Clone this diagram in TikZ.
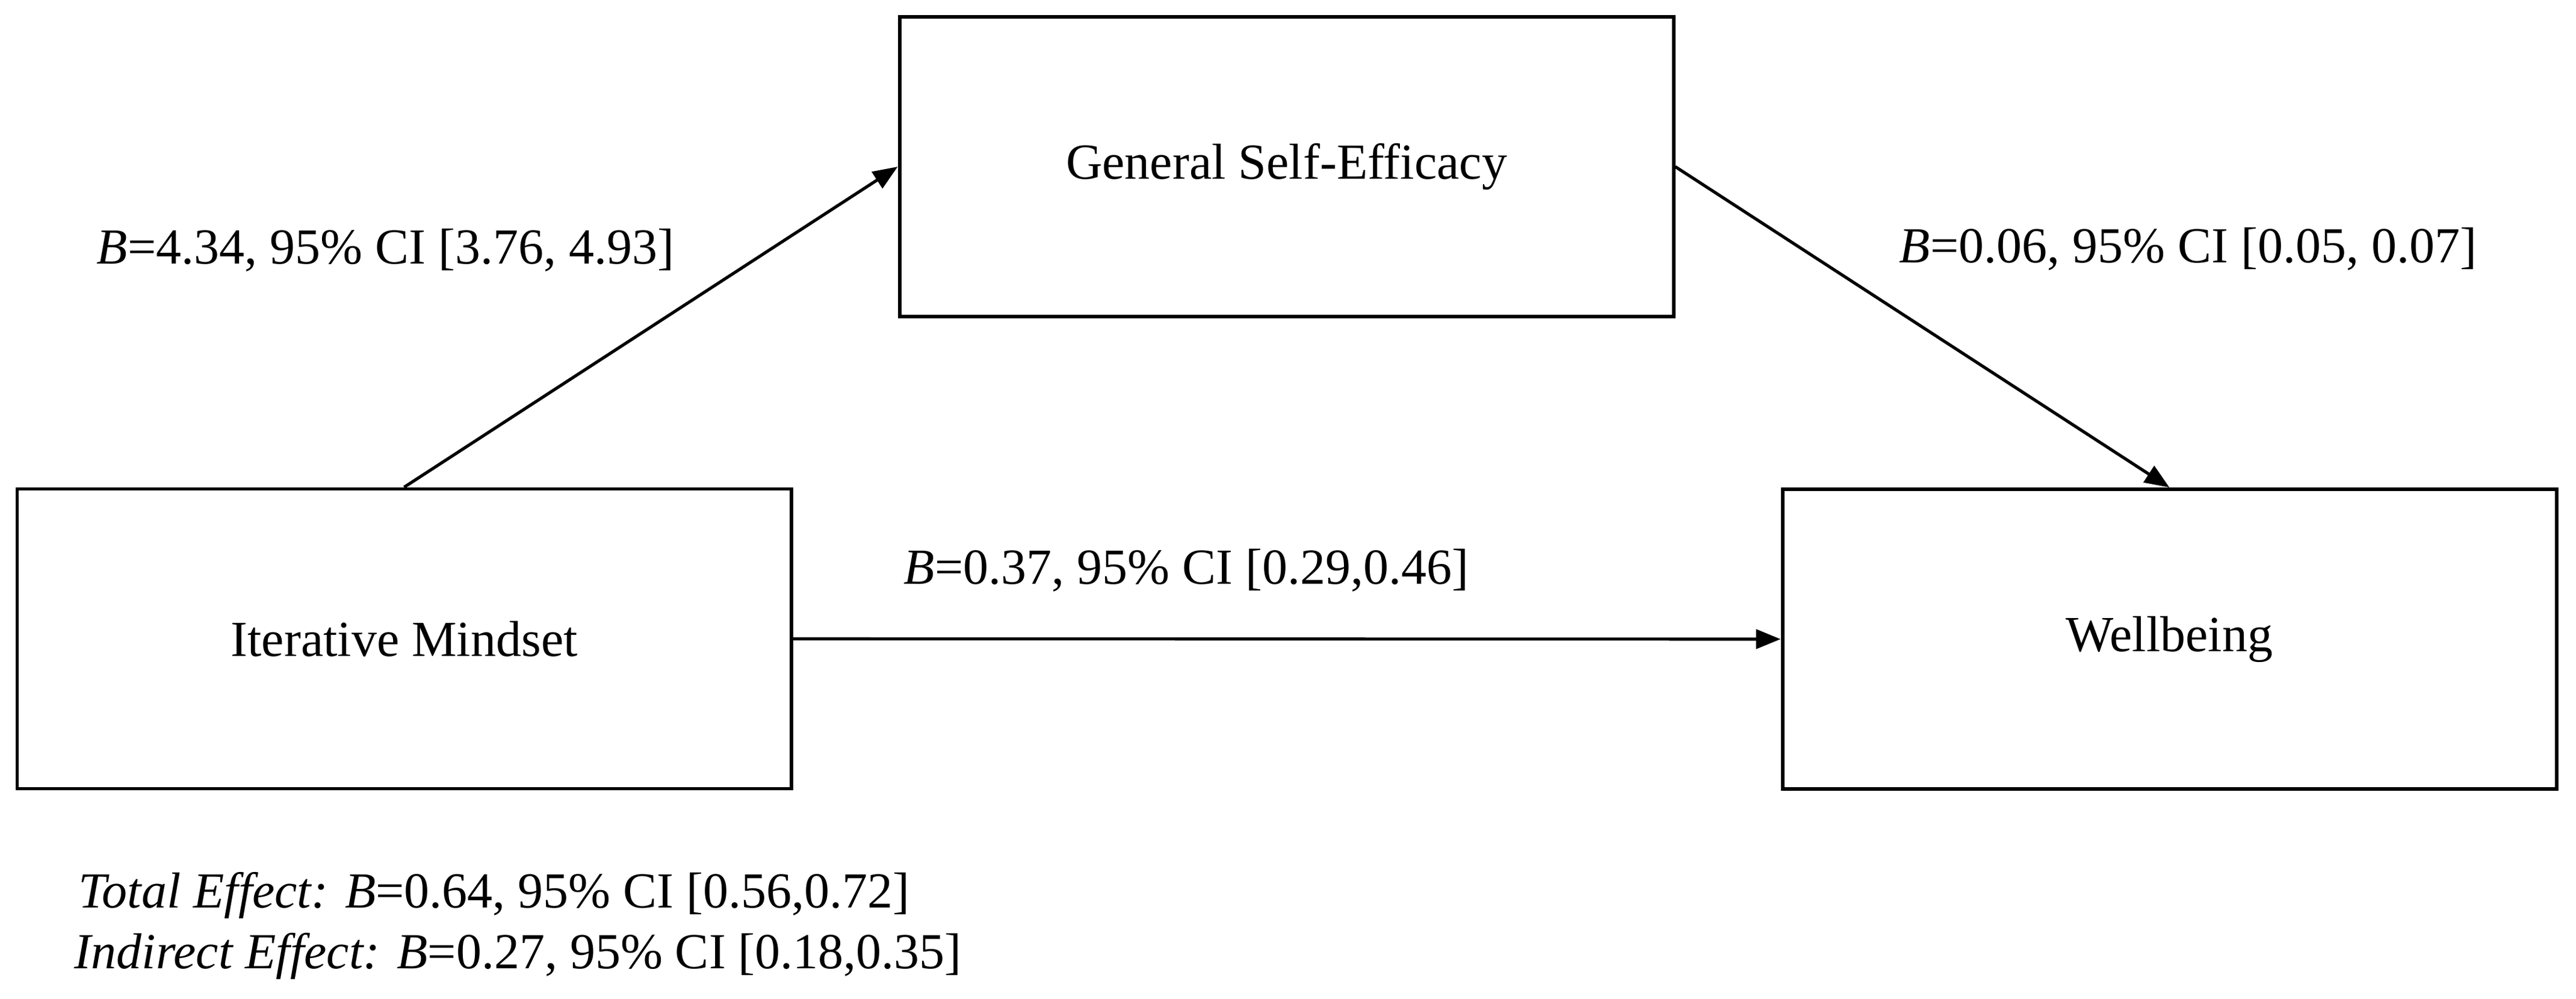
\documentclass[tikz,border=0pt]{standalone}
\usepackage{fontspec}
\setmainfont{Liberation Serif}
\usetikzlibrary{arrows.meta}
\tikzset{
  txt/.style={font=\fontsize{23.9pt}{28.7pt}\selectfont, text=black},
  varbox/.style={txt, draw=black, line width=1.7pt, rectangle, inner sep=0pt,
                 minimum width=12.86cm, minimum height=4.98cm},
  lab/.style={txt, inner sep=0pt, anchor=base west},
  conn/.style={line width=1.45pt, draw=black,
               -{Triangle[length=0.41cm, width=0.32cm]}}
}
\begin{document}
\begin{tikzpicture}
\useasboundingbox (0,0) rectangle (42.8,-16.6);
\fill[white] (0,0) rectangle (42.8,-16.6);

\node[varbox] (gse) at (21.375,-2.77) {General Self-Efficacy};
\node[varbox] (im)  at (6.715,-10.615) {Iterative Mindset};
\node[varbox] (wb)  at (36.045,-10.62) {Wellbeing};

\draw[conn] (im.north) -- (gse.west);
\draw[conn] (gse.east) -- (wb.north);
\draw[conn] (im.east) -- (wb.west);

\node[lab] (la) at (1.60,-4.39) {\textit{B}=4.34, 95\% CI [3.76, 4.93]};
\node[lab] (lb) at (31.55,-4.37) {\textit{B}=0.06, 95\% CI [0.05, 0.07]};
\node[lab] (lc) at (15.01,-9.70) {\textit{B}=0.37, 95\% CI [0.29,0.46]};

\node[lab] (tot) at (1.30,-15.08) {\textit{Total Effect: B}=0.64, 95\% CI [0.56,0.72]};
\node[lab] (ind) at (1.23,-16.09) {\textit{Indirect Effect: B}=0.27, 95\% CI [0.18,0.35]};
\end{tikzpicture}
\end{document}
